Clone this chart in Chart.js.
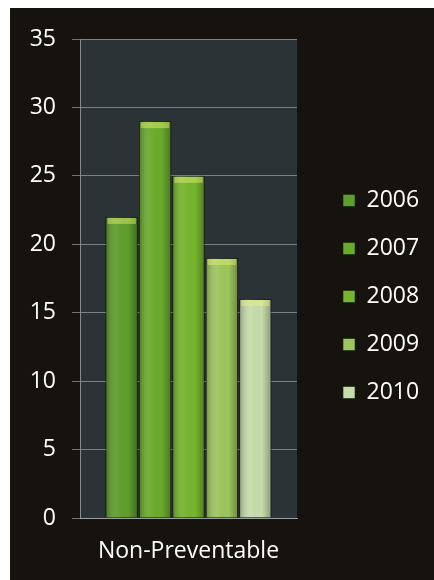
<!DOCTYPE html>
<html>
<head>
<meta charset="utf-8">
<script src="https://cdn.jsdelivr.net/npm/chart.js@4.4.1/dist/chart.umd.min.js"></script>
<style>
  html, body { margin: 0; padding: 0; background: #fff; }
  #box {
    position: absolute; left: 10px; top: 8px;
    width: 424px; height: 572px;
    background: #16130f;
  }
</style>
</head>
<body>
<div id="box"><canvas id="myChart"></canvas></div>
<script>
const categories = ['Non-Preventable'];
const years = ['2006', '2007', '2008', '2009', '2010'];
const values = [[22], [29], [25], [19], [16]];
const barColors = ['#5f9d2c', '#6aab2b', '#76b52d', '#9dc65e', '#c6dcaa'];
const yTicks = [0, 5, 10, 15, 20, 25, 30, 35];

// plot area fill
const plotBg = {
    id: 'plotBg',
    beforeDraw(chart) {
        const a = chart.chartArea;
        const c = chart.ctx;
        c.save();
        c.fillStyle = '#2b3337';
        c.fillRect(a.left, a.top, a.right - a.left, a.bottom - a.top);
        c.restore();
    }
};

// a little shine on each bar, taken from the bar elements themselves
const barShine = {
    id: 'barShine',
    afterDatasetsDraw(chart) {
        const c = chart.ctx;
        chart.data.datasets.forEach((ds, i) => {
            chart.getDatasetMeta(i).data.forEach(bar => {
                const l = bar.x - bar.width / 2;
                const r = bar.x + bar.width / 2;
                const g = c.createLinearGradient(l, 0, r, 0);
                g.addColorStop(0, 'rgba(0,0,0,0.28)');
                g.addColorStop(0.35, 'rgba(255,255,255,0.06)');
                g.addColorStop(0.7, 'rgba(0,0,0,0)');
                g.addColorStop(1, 'rgba(0,0,0,0.3)');
                c.save();
                c.fillStyle = g;
                c.fillRect(l, bar.y, bar.width, bar.base - bar.y);
                c.fillStyle = 'rgba(235,245,120,0.45)';
                c.fillRect(l + 2, bar.y + 1, bar.width - 4, 6);
                c.restore();
            });
        });
    }
};

// fix legend width and centre so the plot ends where the reference does
const legendFix = {
    id: 'legendFix',
    afterInit(chart) {
        const lg = chart.legend;
        const fit = lg.fit.bind(lg);
        lg.fit = function() {
            fit();
            this.width = 116;
        };
    },
    afterLayout(chart) {
        chart.legend.top -= 13;
        chart.legend.bottom -= 13;
    }
};

const ctx = document.getElementById('myChart').getContext('2d');

const myChart = new Chart(ctx, {
    type: 'bar',
    data: {
        labels: categories,
        datasets: years.map((y, i) => ({
            label: y,
            data: values[i],
            backgroundColor: barColors[i],
            borderColor: 'rgba(20,40,10,0.6)',
            borderWidth: 1,
            categoryPercentage: 0.77,
            barPercentage: 0.97
        }))
    },
    options: {
        responsive: true,
        maintainAspectRatio: false,
        animation: false,
        layout: { padding: { top: 31, left: 0, right: 0, bottom: 0 } },
        plugins: {
            legend: {
                position: 'right',
                labels: {
                    color: '#ffffff',
                    font: { family: 'Open Sans', size: 23 },
                    boxWidth: 12,
                    boxHeight: 12,
                    padding: 25
                }
            },
            tooltip: { enabled: false }
        },
        scales: {
            x: {
                grid: { display: false },
                border: { color: 'rgba(170,180,180,0.7)' },
                ticks: {
                    color: '#ffffff',
                    font: { family: 'Open Sans', size: 23 },
                    padding: 12
                },
                afterFit: (s) => { s.height = 62; }
            },
            y: {
                min: 0,
                max: 35,
                afterBuildTicks: (s) => { s.ticks = yTicks.map(v => ({ value: v })); },
                grid: { color: 'rgba(185,195,195,0.55)', tickLength: 8 },
                border: { color: 'rgba(170,180,180,0.7)' },
                ticks: {
                    color: '#ffffff',
                    font: { family: 'Open Sans', size: 23 },
                    padding: 16
                },
                afterFit: (s) => { s.width = 70; }
            },
            gap: {
                position: 'right',
                display: true,
                grid: { display: false },
                border: { display: false },
                ticks: { display: false },
                afterFit: (s) => { s.width = 21; }
            }
        }
    },
    plugins: [plotBg, barShine, legendFix]
});
</script>
</body>
</html>
